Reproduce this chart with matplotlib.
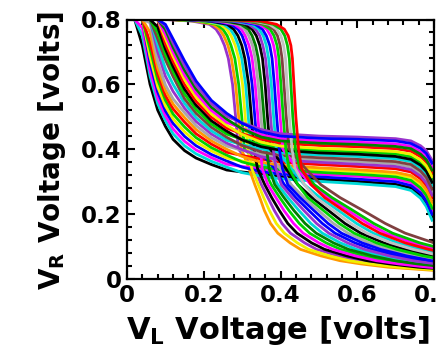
import numpy as np
import matplotlib
matplotlib.use("Agg")
import matplotlib.pyplot as plt
from matplotlib.patches import Rectangle
from matplotlib.ticker import MultipleLocator

nan = np.nan

# curves of the first kind: VR read at fixed VL points
VL_GRID = [0.00, 0.02, 0.04, 0.06, 0.08, 0.10, 0.12, 0.15, 0.18, 0.22, 0.26,
           0.30, 0.35, 0.40, 0.50, 0.60, 0.70, 0.74, 0.765, 0.78, 0.795]

a01 = [.80, .80, .72, .60, .52, .47, .43, .395, .372, .352, .335, .329, .323, .315, .307, .300, .291, .280, .256, .231, .189]
a02 = [.80, .80, .75, .625, .54, .488, .447, .41, .385, .362, .344, .327, .316, .308, .300, .293, .284, .272, .248, .222, .180]
a03 = [.80, .80, .774, .642, .556, .503, .462, .424, .397, .373, .353, .346, .339, .330, .322, .316, .308, .296, .274, .250, .210]
a04 = [.80, .80, .80, .666, .576, .518, .479, .439, .410, .383, .363, .344, .330, .322, .314, .307, .299, .287, .264, .239, .199]
a05 = [.80, .80, .80, .685, .592, .533, .493, .453, .422, .394, .372, .363, .353, .344, .336, .330, .322, .312, .290, .267, .228]
a06 = [.80, .80, .80, .710, .614, .551, .508, .468, .435, .404, .381, .360, .345, .336, .328, .322, .314, .303, .280, .257, .217]
a07 = [.80, .80, .80, .730, .632, .565, .524, .483, .447, .415, .390, .380, .369, .359, .352, .346, .339, .329, .308, .286, .248]
a08 = [.80, .80, .80, .761, .649, .582, .539, .497, .460, .425, .399, .377, .359, .350, .342, .336, .328, .318, .297, .274, .236]
a09 = [.80, .80, .80, .790, .670, .598, .555, .512, .472, .435, .409, .396, .384, .373, .366, .361, .354, .344, .324, .303, .267]
a10 = [.80, .80, .80, .80, .700, .625, .578, .526, .485, .446, .418, .398, .376, .366, .359, .353, .346, .336, .316, .295, .258]
a11 = [.80, .80, .80, .80, .722, .648, .600, .541, .497, .456, .427, .413, .400, .389, .381, .377, .370, .361, .342, .322, .287]
a12 = [.80, .80, .80, .80, .740, .676, .624, .555, .510, .467, .436, .411, .391, .380, .373, .368, .361, .352, .332, .312, .276]
a13 = [.80, .80, .80, .80, .760, .693, .640, .570, .522, .477, .446, .430, .414, .403, .395, .391, .385, .376, .358, .340, .306]
a14 = [.80, .80, .80, .80, .777, .709, .655, .585, .535, .487, .455, .428, .407, .396, .388, .384, .377, .368, .350, .331, .297]
a15 = [.80, .80, .80, .80, .80, .724, .670, .599, .547, .498, .464, .447, .430, .418, .411, .407, .401, .393, .376, .359, .326]
a16 = [.80, .80, .80, .80, .80, .741, .686, .614, .560, .508, .473, .445, .421, .409, .402, .398, .392, .384, .366, .348, .315]
a17 = [.80, .80, .80, .80, .80, .754, .699, .628, .572, .519, .482, .464, .444, .432, .425, .421, .416, .408, .392, .376, .345]
a18 = [.80, .80, .80, .80, .80, .769, .714, .643, .585, .529, .492, .462, .437, .425, .418, .414, .408, .401, .384, .367, .335]
a19 = [.80, .80, .80, .80, .80, .780, .727, .657, .597, .540, .501, .481, .460, .447, .440, .437, .432, .425, .410, .395, .365]
a20 = [.80, .80, .80, .80, .80, .785, .740, .672, .610, .550, .510, .479, .453, .440, .433, .430, .425, .417, .402, .386, .356]

# curves of the second kind: VL read at fixed VR points
VR_GRID = [0.800, 0.795, 0.785, 0.770, 0.750, 0.720, 0.680, 0.600, 0.500, 0.400, 0.340, 0.290,
           0.250, 0.210, 0.170, 0.140, 0.110, 0.090, 0.070, 0.055, 0.045, 0.035, 0.025]

b01 = [.100, .170, .215, .232, .243, .254, .264, .275, .283, .290, .333, .350, .367, .384, .404, .426, .463, .494, .550, .603, .659, .732, .850]
b02 = [.108, .179, .224, .241, .252, .263, .272, .283, .291, .298, .318, .333, .346, .358, .374, .393, .425, .452, .505, .555, .610, .680, .800]
b03 = [.115, .188, .233, .250, .261, .271, .281, .291, .299, .306, .355, .376, .398, .422, .449, .476, .519, .557, .616, .674, .733, .810, nan]
b04 = [.124, .199, .243, .260, .271, .282, .291, .301, .308, .315, .325, .342, .356, .371, .389, .410, .444, .473, .527, .579, .635, .706, .825]
b05 = [.132, .208, .252, .269, .280, .290, .299, .309, .316, .323, .369, .393, .419, .448, .479, .509, .556, .598, .661, .721, .782, .862, nan]
b06 = [.139, .217, .261, .278, .289, .299, .307, .317, .324, .331, .340, .359, .377, .397, .419, .443, .481, .515, .572, .626, .684, .758, .875]
b07 = [.148, .228, .271, .289, .300, .309, .317, .326, .333, .340, .384, .410, .440, .474, .509, .542, .594, .640, .705, .769, .831, nan, nan]
b08 = [.156, .237, .280, .298, .308, .318, .326, .334, .341, .348, .352, .367, .388, .409, .434, .459, .500, .536, .594, .650, .708, .784, .900]
b09 = [.163, .246, .289, .307, .317, .327, .334, .342, .349, .356, .399, .428, .461, .499, .538, .576, .631, .682, .750, .816, nan, nan, nan]
b10 = [.171, .255, .297, .316, .326, .335, .342, .350, .357, .364, .370, .385, .409, .435, .464, .493, .538, .577, .639, .698, .757, .836, nan]
b11 = [.180, .265, .308, .326, .337, .346, .353, .360, .366, .373, .414, .445, .482, .525, .568, .609, .669, .724, .794, .864, nan, nan, nan]
b12 = [.187, .274, .317, .335, .346, .354, .361, .368, .374, .381, .388, .402, .430, .461, .494, .526, .575, .619, .683, .745, .806, nan, nan]
b13 = [.195, .283, .325, .344, .355, .363, .369, .376, .382, .389, .428, .462, .503, .551, .598, .642, .706, .766, .839, nan, nan, nan, nan]
b14 = [.202, .292, .334, .353, .363, .372, .378, .384, .390, .397, .405, .419, .451, .487, .524, .559, .613, .661, .728, .793, .855, nan, nan]
b15 = [.211, .303, .345, .364, .374, .382, .388, .393, .399, .406, .443, .479, .524, .576, .628, .675, .744, .807, nan, nan, nan, nan, nan]
b16 = [.219, .312, .353, .373, .383, .391, .396, .401, .407, .414, .422, .445, .471, .512, .553, .592, .650, .703, .772, .840, nan, nan, nan]
b17 = [.226, .321, .362, .382, .392, .399, .404, .409, .415, .422, .465, .505, .555, .615, .673, .725, .800, .870, nan, nan, nan, nan, nan]
b18 = [.234, .330, .371, .390, .401, .408, .413, .417, .423, .430, .438, .462, .492, .538, .583, .625, .688, .745, .817, nan, nan, nan, nan]
b19 = [.243, .341, .381, .401, .411, .418, .423, .427, .432, .439, .450, .488, .534, .589, .643, .692, .763, .828, nan, nan, nan, nan, nan]
b20 = [.250, .350, .390, .410, .420, .427, .431, .435, .440, .447, .455, .480, .515, .564, .613, .659, .725, .786, .861, nan, nan, nan, nan]

TICKS = [0, 0.2, 0.4, 0.6, 0.8]
TICK_LABELS = ["0", "0.2", "0.4", "0.6", "0.8"]

VR_A = [a01, a02, a03, a04, a05, a06, a07, a08, a09, a10,
        a11, a12, a13, a14, a15, a16, a17, a18, a19, a20]
VL_B = [b01, b02, b03, b04, b05, b06, b07, b08, b09, b10,
        b11, b12, b13, b14, b15, b16, b17, b18, b19, b20]

COLORS_A = ["#000000", "#00d8d8", "#ff00ff", "#0000ff", "#f0f000", "#00d000", "#ff0000",
            "#ff9900", "#a8a8a8", "#9933cc", "#00d8d8", "#804040", "#00d000", "#000000",
            "#ff0000", "#f0f000", "#ff00ff", "#008000", "#9933cc", "#0000ff"]
COLORS_B = ["#9933cc", "#ff9900", "#00d000", "#f0f000", "#00d8d8", "#000000", "#0000ff",
            "#ff00ff", "#a8a8a8", "#008000", "#000000", "#9933cc", "#00d8d8", "#0000ff",
            "#ff00ff", "#00d000", "#804040", "#c0c0c0", "#00c000", "#ff0000"]

plt.rcParams["font.family"] = "DejaVu Sans"
plt.rcParams["font.weight"] = "bold"
plt.rcParams["mathtext.fontset"] = "dejavusans"

fig = plt.figure(figsize=(4.44, 3.54), dpi=100)
ax = fig.add_axes([127 / 444, 75.5 / 354, 307 / 444, 259 / 354])

for i in range(len(VR_A)):
    ax.plot(VL_GRID, VR_A[i], color=COLORS_A[i], lw=2.0)
    ax.plot(VL_B[i], VR_GRID, color=COLORS_B[i], lw=2.0)

ax.set_xlim(0, 0.8)
ax.set_ylim(0, 0.8)
ax.set_xticks(TICKS)
ax.set_xticklabels(TICK_LABELS)
ax.set_yticks(TICKS)
ax.set_yticklabels(TICK_LABELS)
ax.xaxis.set_minor_locator(MultipleLocator(0.04))
ax.yaxis.set_minor_locator(MultipleLocator(0.04))
ax.tick_params(which="both", direction="in", top=True, right=True, width=1.5)
ax.tick_params(which="major", length=6, labelsize=16.5, pad=4)
ax.tick_params(which="minor", length=3.5)
for lbl in ax.get_xticklabels() + ax.get_yticklabels():
    lbl.set_fontweight("bold")
for s in ax.spines.values():
    s.set_linewidth(1.6)

ax.set_xlabel(r"$\mathbf{V_L}$ Voltage [volts]", fontsize=22, fontweight="bold")
ax.xaxis.set_label_coords(0.49, -0.137)
ax.set_ylabel(r"$\mathbf{V_R}$ Voltage [volts]", fontsize=20, fontweight="bold")
ax.yaxis.set_label_coords(-0.192, 0.496)

# the source picture is cut just right of the frame
fig.add_artist(Rectangle((436.5 / 444, 0), 1, 1, transform=fig.transFigure,
                         facecolor="white", edgecolor="none", zorder=10))

fig.savefig("out.png", dpi=100)
